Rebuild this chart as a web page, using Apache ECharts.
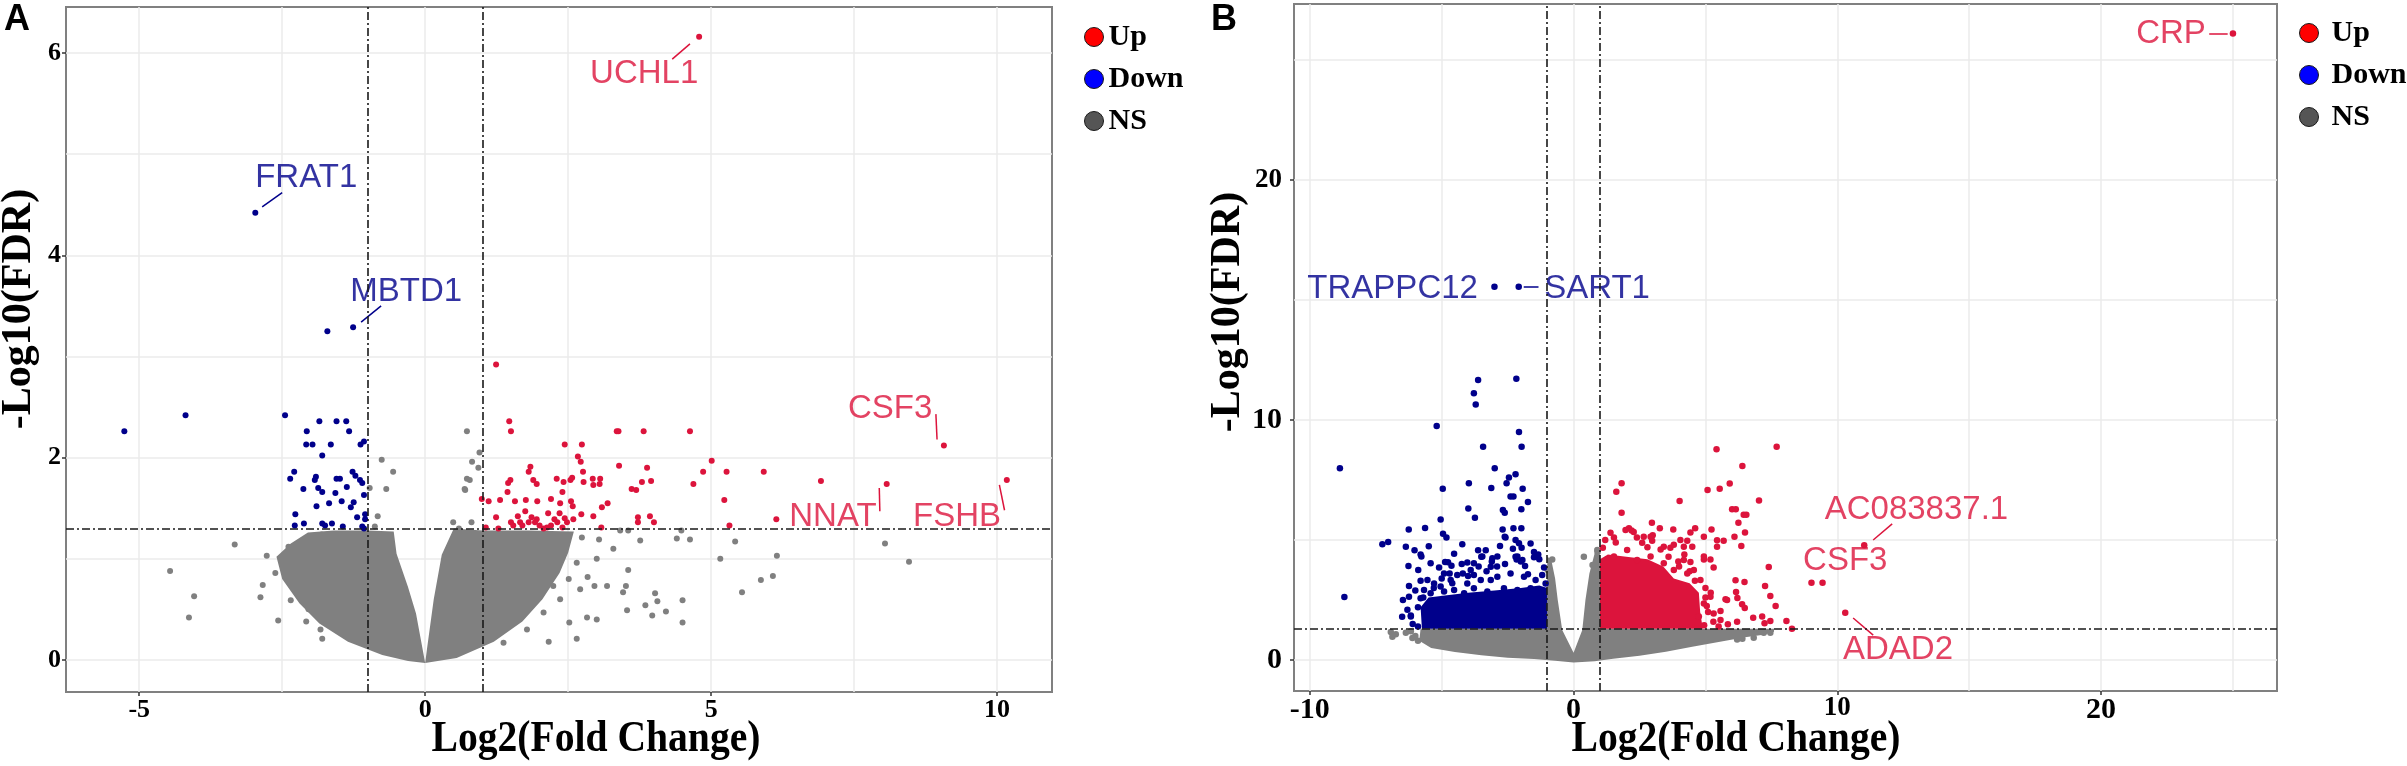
<!DOCTYPE html>
<html>
<head>
<meta charset="utf-8">
<script src="https://cdn.jsdelivr.net/npm/echarts@6/dist/echarts.min.js"></script>
<style>
html, body { margin: 0; padding: 0; background: #fff; }
#chart { width: 2407px; height: 766px; }
</style>
</head>
<body>
<div id="chart"></div>
<script>
var RED = '#DC143C', BLUE = '#00008B', GREY = '#808080';
var SERIF = 'Liberation Serif', SANS = 'Liberation Sans';

// ---- panel A : [log2FC, -log10FDR] ----
var upA = [[4.79,6.16],[1.24,2.92],[9.07,2.12],[8.07,1.74],[10.17,1.78],[6.92,1.77],
  [1.47,2.36],[1.50,2.26],[3.38,2.26],[3.35,2.26],[3.82,2.26],[4.63,2.26],[2.44,2.13],[2.74,2.13],
  [2.67,2.01],[2.72,1.96],[3.39,1.92],[3.88,1.90],[5.01,1.97],[4.86,1.86],[5.27,1.86],[5.92,1.86],
  [4.69,1.74],[1.84,1.91],[1.81,1.86],[1.49,1.78],[1.45,1.75],[1.89,1.78],[1.95,1.74],[2.30,1.79],
  [2.42,1.76],[2.54,1.78],[2.57,1.80],[2.76,1.86],[2.77,1.76],[2.93,1.79],[3.06,1.79],[2.94,1.73],
  [3.05,1.74],[3.61,1.69],[3.69,1.68],[3.79,1.76],[3.95,1.77],[5.23,1.58],[0.99,1.59],[1.11,1.57],
  [1.31,1.58],[1.57,1.57],[1.76,1.58],[1.96,1.57],[2.20,1.59],[2.36,1.55],[2.55,1.57],[2.58,1.52],
  [1.44,1.66],[2.40,1.66],[3.19,1.55],[3.09,1.51],[2.94,1.42],[2.73,1.44],[1.24,1.41],[1.50,1.36],
  [1.66,1.36],[1.86,1.41],[1.95,1.39],[1.92,1.36],[2.07,1.30],[2.26,1.39],[2.31,1.36],[2.44,1.40],
  [2.48,1.36],[2.59,1.39],[1.06,1.31],[1.28,1.30],[1.54,1.33],[1.81,1.36],[2.13,1.31],[3.08,1.31],
  [3.72,1.41],[3.72,1.36],[3.93,1.42],[4.00,1.36],[5.32,1.33],[6.14,1.39],[1.70,1.33],[2.00,1.33],
  [2.20,1.33],[2.40,1.31],[1.62,1.42],[2.15,1.45],[2.35,1.45],[1.75,1.47]];
var downA = [[-2.97,4.42],[-1.71,3.25],[-1.26,3.29],
  [-5.26,2.26],[-4.19,2.42],[-2.45,2.42],[-1.85,2.36],[-1.55,2.36],[-1.38,2.36],[-2.07,2.26],[-1.33,2.26],
  [-1.07,2.16],[-1.13,2.13],[-2.08,2.13],[-1.97,2.13],[-1.65,2.13],[-1.80,2.02],[-2.29,1.86],[-2.36,1.79],
  [-1.91,1.81],[-1.93,1.78],[-1.27,1.86],[-1.22,1.82],[-1.55,1.79],[-1.49,1.79],[-1.14,1.78],[-1.10,1.75],
  [-1.37,1.71],[-2.13,1.69],[-1.87,1.70],[-1.80,1.66],[-1.57,1.65],[-1.90,1.52],[-1.68,1.55],[-1.46,1.57],
  [-1.25,1.56],[-1.30,1.51],[-1.07,1.63],[-1.05,1.44],[-1.19,1.41],[-2.27,1.44],[-2.28,1.33],[-2.12,1.35],
  [-1.80,1.35],[-1.63,1.35],[-1.44,1.32],[-1.75,1.33],[-1.10,1.32],[-1.05,1.39],[-1.07,1.30]];
var nsA = [[-3.33,1.14],[-4.46,0.88],[-4.04,0.63],[-4.13,0.42],[-2.57,0.39],[-2.88,0.62],[-2.77,1.03],
  [0.73,2.26],[-0.76,1.98],[-0.56,1.86],[-0.97,1.70],[-0.68,1.69],[0.95,2.05],[0.82,1.96],[0.93,1.90],
  [0.73,1.79],[0.70,1.68],[-1.80,0.21],[-2.62,0.86],[-2.84,0.74],[-1.81,1.24],[-2.39,1.12],[-2.48,0.97],
  [-2.35,0.59],[-2.04,0.50],[-2.08,0.38],[-1.83,0.30],[-0.83,1.42],[-0.88,1.32],[0.69,1.69],[0.78,1.78],
  [0.81,1.36],[0.49,1.36],[0.59,1.30],
  [4.40,1.20],[4.63,1.19],[4.48,1.28],[5.42,1.17],[5.16,1.00],[6.15,1.03],[5.87,0.79],[6.08,0.83],
  [5.54,0.67],[3.55,0.89],[3.51,0.73],[3.46,0.67],[4.02,0.66],[4.06,0.58],[3.85,0.54],[3.97,0.44],
  [4.21,0.48],[4.50,0.59],[4.50,0.37],[3.53,0.49],[2.65,0.21],[3.00,0.40],[2.83,0.42],[2.52,0.37],
  [2.96,0.73],[3.18,0.73],[2.71,0.70],[2.84,0.82],[3.00,1.00],[3.29,1.10],[3.76,1.18],[3.41,1.28],
  [3.55,1.28],[3.04,1.19],[2.74,1.21],[2.16,0.18],[2.24,0.73],[8.04,1.15],[8.46,0.97],
  [2.65,0.96],[2.51,0.80],[2.36,0.60],[2.07,0.47],[1.78,0.30],[1.37,0.17]];
// outlines of the solid grey cloud (two lobes of the V)
var nsLeftA = [[0,-0.03],[-0.16,0.46],[-0.30,0.72],[-0.50,1.05],[-0.55,1.27],[-1.0,1.28],[-1.6,1.28],
  [-2.05,1.26],[-2.35,1.15],[-2.6,1.02],[-2.5,0.8],[-2.2,0.56],[-1.85,0.36],[-1.35,0.18],[-0.75,0.05],[-0.3,-0.01]];
var nsRightA = [[0,-0.03],[0.55,0.02],[1.2,0.18],[1.7,0.38],[2.05,0.6],[2.35,0.86],[2.5,1.06],[2.6,1.27],
  [1.8,1.28],[1.0,1.28],[0.5,1.3],[0.29,1.04],[0.15,0.6],[0.03,0.1]];
var genesA = ['UCHL1','FRAT1','MBTD1','CSF3','NNAT','FSHB'];
var geneDirA = ['Up','Down','Down','Up','Up','Up'];
var genePosA = [[3.83,5.79],[-2.08,4.77],[-0.33,3.64],[8.13,2.48],[7.13,1.41],[9.3,1.41]];
var leaderA = [[[4.63,6.09],[4.32,5.94]],[[-2.85,4.48],[-2.5,4.62]],[[-1.12,3.34],[-0.77,3.5]],
  [[8.93,2.43],[8.95,2.18]],[[7.94,1.70],[7.95,1.47]],[[10.04,1.73],[10.13,1.48]]];

// ---- panel B ----
var upB = [[25.0,26.1],[11.02,4.78],[9.02,3.22],[9.44,3.22],[10.30,1.97],
  [5.42,8.78],[7.70,8.89],[6.40,8.08],[1.82,7.36],[1.62,7.01],[1.82,6.14],[4.02,6.63],[5.08,7.08],
  [5.54,7.14],[5.92,7.35],[7.03,6.65],[6.01,6.28],[6.15,6.28],[6.45,6.05],[6.55,6.05],[2.97,5.72],
  [3.27,5.49],[4.61,5.49],[4.43,5.31],[5.23,5.44],[6.25,5.72],[6.50,5.31],[6.10,5.14],[6.36,4.75],
  [4.94,5.14],[5.44,4.99],[5.69,4.97],[5.19,4.19],[5.31,3.85],[4.94,4.19],[4.43,4.08],[7.40,3.88],
  [6.14,3.32],[6.48,3.25],[7.26,3.08],[7.46,2.67],[7.66,2.25],[6.16,2.83],[6.21,2.58],[6.39,2.32],
  [6.49,2.17],[6.81,1.76],[7.15,1.81],[7.24,1.53],[7.46,1.63],[8.07,1.63],[8.28,1.30],[5.85,1.49],
  [5.76,2.53],[5.57,2.04],[1.11,4.68],[1.53,5.10],[2.10,5.49],[2.28,5.33],[2.60,4.89],[2.98,4.97],
  [3.67,4.68],[3.97,4.10],[4.31,4.97],[1.2,5.0],[1.6,4.9],[2.4,5.1],[2.8,4.7],[3.3,4.6],[3.6,4.3],
  [4.0,3.9],[4.4,3.7],[4.6,3.3],[5.0,2.6],[5.1,2.0],[5.3,1.6],[5.0,3.0],[4.2,4.4],[3.0,5.2],[2.2,5.4],
  [1.4,5.3],[5.5,1.4],[5.2,2.8],[3.8,4.8],
  [3.78,5.44],[1.97,5.42],[2.03,4.58],[2.66,5.14],[2.92,5.14],[3.42,4.72],[4.05,5.0],[4.18,4.72],
  [4.50,4.72],[4.94,4.31],[5.44,4.72],[4.18,4.17],[4.56,3.75],[4.81,3.33],[5.19,2.64],[4.94,2.36],
  [5.31,1.94],[4.75,1.81],[5.82,2.50],[5.57,1.67],[6.20,1.60],[1.53,4.31],[2.41,4.17],[2.92,4.31],
  [3.42,4.03],[3.80,3.75],[4.31,3.61],[4.18,3.06],[4.95,1.45],[5.05,2.25]];
var downB = [[-3.0,15.55],[-2.08,15.55],
  [-8.86,7.99],[-8.69,2.63],[-7.25,4.82],[-7.03,4.92],[-6.25,5.44],[-6.36,4.72],[-6.03,4.57],[-5.63,5.50],
  [-5.80,4.40],[-5.49,4.74],[-6.26,3.92],[-6.24,3.08],[-6.47,2.50],[-6.17,1.86],[-5.19,9.75],[-4.96,7.14],
  [-5.04,5.85],[-4.95,5.26],[-4.82,5.10],[-3.78,11.11],[-3.71,10.65],[-3.62,11.67],[-2.17,11.72],
  [-2.07,9.50],[-1.97,8.89],[-3.43,8.89],[-2.99,7.99],[-3.12,7.17],[-3.97,7.36],[-2.54,7.36],[-2.45,7.60],
  [-2.20,7.74],[-1.93,7.14],[-2.39,6.81],[-2.28,6.81],[-1.73,6.58],[-1.98,6.28],[-3.99,6.31],[-3.74,5.93],
  [-2.68,6.25],[-2.61,6.14],[-2.69,5.44],[-2.28,5.49],[-1.98,5.49],[-2.58,5.10],[-2.30,4.64],[-1.63,4.85],
  [-1.97,4.68],[-2.79,4.75],[-3.62,4.57],[-3.33,4.57],[-4.22,4.82],[-4.53,4.43],[-4.87,4.08],[-5.10,3.85],
  [-1.34,4.40],[-1.12,3.85],[-2.16,4.19],[-1.84,3.92],[-1.73,3.57],[-5.0,3.4],[-4.6,3.2],[-4.2,3.6],
  [-3.6,3.9],[-3.1,4.1],[-2.6,4.0],[-2.2,4.3],[-1.5,4.5],[-5.9,2.2],[-6.0,2.9],[-5.8,3.3],[-6.5,1.8],
  [-6.3,2.1],[-5.3,3.0],[-4.0,3.5],[-3.3,3.7],[-2.9,3.9],[-1.3,4.2],[-4.7,3.6],[-3.5,4.3],[-2.0,4.1],
  [-5.7,2.6],[-6.1,1.5],[-5.9,1.4],
  [-5.77,4.31],[-5.42,4.03],[-4.76,4.07],[-4.63,3.93],[-4.24,4.00],[-4.03,4.06],[-3.90,3.75],[-3.78,4.03],
  [-3.46,4.31],[-3.08,4.24],[-2.89,4.31],[-2.61,5.14],[-2.20,5.00],[-2.07,4.86],[-2.13,4.31],[-1.94,4.17],
  [-1.50,4.28],[-1.19,3.54],[-3.14,3.89],[-5.54,3.33],[-5.29,3.19],[-5.04,3.06],[-4.66,3.33],[-4.41,3.54],
  [-4.03,3.19],[-3.52,3.33],[-2.89,3.47],[-2.39,3.61],[-1.88,3.47],[-1.44,3.33],[-6.24,2.64],[-5.80,2.57],
  [-6.17,1.81],[-5.67,2.92],[-5.42,2.78],[-4.91,2.85],[-4.53,2.92],[-4.15,2.78],[-3.78,2.99],[-3.27,2.85],
  [-2.64,2.99],[-2.13,2.92],[-1.63,2.99],[-1.25,2.78],[-1.06,3.19],[-3.14,3.33],[-3.78,3.54],[-4.91,3.61],
  [-5.89,3.75]];
var nsB = [[-6.87,0.97],[-6.74,1.07],[-6.36,1.14],[-6.17,1.2],[-0.81,4.19],[-0.83,3.01],[-0.98,3.75],
  [0.91,4.5],[0.72,3.96],[7.21,1.14],[7.46,1.14],[6.83,0.93],[6.40,0.89],[6.2,0.86],[-6.0,1.0],[-5.9,0.8],
  [-6.93,1.17],[-6.11,0.92],[0.39,4.3],[0.9,4.58]];
// outlines of the solid clouds
var nsPolyB = [[-5.8,1.3],[-5.85,0.8],[-5.4,0.5],[-4.5,0.33],[-3.5,0.2],[-2.5,0.1],[-1.5,0.04],[-0.7,-0.03],
  [0,-0.1],[0.8,-0.05],[1.5,0.05],[2.5,0.18],[3.5,0.35],[4.5,0.55],[5.5,0.75],[6.5,0.95],[7.2,1.05],
  [7.6,1.18],[7.6,1.3],[1.0,1.3],[1.0,4.4],[0.8,4.45],[0.6,3.6],[0.45,2.5],[0.33,1.25],[0.0,0.3],
  [-0.43,1.25],[-0.6,2.5],[-0.7,3.4],[-0.85,4.2],[-1.0,4.3],[-1.0,1.3]];
var downPolyB = [[-5.75,1.3],[-5.8,2.2],[-5.5,2.6],[-4.8,2.7],[-4.0,2.8],[-3.0,2.9],[-2.0,3.0],[-1.3,3.1],
  [-1.0,3.0],[-1.0,1.3]];
var upPolyB = [[1.0,1.3],[1.0,4.2],[1.3,4.4],[2.0,4.3],[2.8,4.2],[3.4,3.9],[3.8,3.4],[4.4,3.2],[4.75,2.8],
  [4.8,2.0],[4.9,1.3]];
var genesB = ['CRP','TRAPPC12','SART1','AC083837.1','CSF3','ADAD2'];
var geneDirB = ['Up','Down','Down','Up','Up','Up'];
var genePosB = [[22.65,26.1],[-6.86,15.46],[0.89,15.46],[13.0,6.25],[10.3,4.12],[12.3,0.42]];
var leaderB = [[[24.1,26.1],[24.8,26.1]],[[-1.89,15.55],[-1.33,15.55]],[[11.36,5.0],[12.08,5.67]],
  [[10.6,1.75],[11.36,1.04]]];
var leaderDirB = ['Up','Down','Up','Up'];

// axes / thresholds
var xTicksA = [-5, 0, 5, 10], yTicksA = [0, 2, 4, 6];
var gridXA = [-5, -2.5, 0, 2.5, 5, 7.5, 10], gridYA = [0, 1, 2, 3, 4, 5, 6];
var xTicksB = [-10, 0, 10, 20], yTicksB = [0, 10, 20];
var gridXB = [-10, -5, 0, 5, 10, 15, 20, 25], gridYB = [0, 5, 10, 15, 20, 25];
var fcCut = [-1, 1], fdrCut = 1.3;

var dirColor = {Up: RED, Down: BLUE, NS: GREY};

function gridLines(gi, xs, ys) {
    return {
        type: 'scatter', xAxisIndex: gi, yAxisIndex: gi, data: [], silent: true, z: 0,
        markLine: {
            silent: true, symbol: 'none', label: {show: false}, animation: false, z: 0,
            lineStyle: {color: '#ebebeb', width: 1.5, type: 'solid'},
            data: xs.map(function (v) { return {xAxis: v}; }).concat(ys.map(function (v) { return {yAxis: v}; }))
        }
    };
}
function cutLines(gi) {
    return {
        type: 'scatter', xAxisIndex: gi, yAxisIndex: gi, data: [], silent: true, z: 10,
        markLine: {
            silent: true, symbol: 'none', label: {show: false}, animation: false, z: 10,
            lineStyle: {color: '#1a1a1a', width: 1.6, type: [8, 3, 2, 3]},
            data: fcCut.map(function (v) { return {xAxis: v}; }).concat([{yAxis: fdrCut}])
        }
    };
}
function points(name, data, gi, size) {
    return {
        name: name, type: 'scatter', xAxisIndex: gi, yAxisIndex: gi, data: data,
        symbolSize: size, silent: true, z: 3, itemStyle: {color: dirColor[name], opacity: 1}
    };
}
function cloud(name, verts, gi) {
    return {
        name: name, type: 'custom', xAxisIndex: gi, yAxisIndex: gi, data: verts,
        encode: {x: 0, y: 1}, silent: true, z: 2,
        renderItem: function (params, api) {
            if (params.dataIndex !== 0) return;
            var p = verts.map(function (v) { return api.coord(v); });
            return {type: 'polygon', shape: {points: p}, style: {fill: dirColor[name]}};
        }
    };
}
function leaders(segs, dirs, gi) {
    return {
        type: 'lines', coordinateSystem: 'cartesian2d', xAxisIndex: gi, yAxisIndex: gi,
        silent: true, z: 4, lineStyle: {width: 1.5, opacity: 1},
        data: segs.map(function (c, i) { return {coords: c, lineStyle: {color: dirColor[dirs[i]]}}; })
    };
}
function geneLabels(names, pos, dirs, gi) {
    return {
        type: 'scatter', xAxisIndex: gi, yAxisIndex: gi, symbolSize: 1, silent: true, z: 5,
        itemStyle: {color: 'rgba(0,0,0,0)'},
        label: {show: true, position: 'inside', formatter: '{b}', fontFamily: SANS, fontSize: 33},
        data: names.map(function (n, i) {
            return {name: n, value: pos[i], label: {color: dirColor[dirs[i]]}};
        })
    };
}
function tickRich(small) {
    return function (v) { return (small.indexOf(v) >= 0 ? '{s|' : '{b|') + v + '}'; };
}
var rich = {
    b: {fontFamily: SERIF, fontWeight: 'bold', fontSize: 30, color: '#000'},
    s: {fontFamily: SERIF, fontWeight: 'bold', fontSize: 27, color: '#000'}
};
var tickStyle = {show: true, length: 4, lineStyle: {color: '#333', width: 1.5}};
function axis(gi, min, max, ticks, label) {
    return {
        gridIndex: gi, type: 'value', min: min, max: max,
        axisLine: {show: false, onZero: false}, splitLine: {show: false},
        axisTick: Object.assign({customValues: ticks}, tickStyle),
        axisLabel: Object.assign({customValues: ticks, color: '#000'}, label)
    };
}
var labA = {fontFamily: SERIF, fontWeight: 'bold', fontSize: 26};

var legendData = [
    {name: 'Up', itemStyle: {color: '#ff0000', borderColor: '#1a1a1a', borderWidth: 1}},
    {name: 'Down', itemStyle: {color: '#0000ff', borderColor: '#1a1a1a', borderWidth: 1}},
    {name: 'NS', itemStyle: {color: '#555555', borderColor: '#1a1a1a', borderWidth: 1}}
];
var legendText = {fontFamily: SERIF, fontWeight: 'bold', fontSize: 30, color: '#000', lineHeight: 30};

var option = {
    animation: false,
    backgroundColor: '#fff',
    grid: [
        {left: 66, top: 7, width: 986, height: 685, show: true, borderColor: '#808080', borderWidth: 2, backgroundColor: '#fff'},
        {left: 1294, top: 4, width: 983, height: 687, show: true, borderColor: '#808080', borderWidth: 2, backgroundColor: '#fff'}
    ],
    legend: [
        {left: 1079, top: 17, orient: 'vertical', icon: 'circle', itemWidth: 19, itemHeight: 19, itemGap: 12,
         selectedMode: false, textStyle: legendText, data: legendData},
        {left: 2294, top: 13, orient: 'vertical', icon: 'circle', itemWidth: 19, itemHeight: 19, itemGap: 12,
         selectedMode: false, textStyle: Object.assign({padding: [0, 0, 0, 8]}, legendText), data: legendData}
    ],
    xAxis: [
        axis(0, -6.28, 10.96, xTicksA, Object.assign({margin: 5}, labA)),
        axis(1, -10.6, 26.67, xTicksB, {margin: 4, formatter: tickRich([10]), rich: rich})
    ],
    yAxis: [
        axis(0, -0.317, 6.455, yTicksA, Object.assign({margin: 5}, labA)),
        axis(1, -1.29, 27.33, yTicksB, {margin: 12, formatter: tickRich([20]), rich: rich})
    ],
    graphic: [
        {type: 'text', left: 4, top: 2, style: {text: 'A', fontFamily: SANS, fontWeight: 'bold', fontSize: 36, fill: '#000'}},
        {type: 'text', left: 1211, top: 2, style: {text: 'B', fontFamily: SANS, fontWeight: 'bold', fontSize: 36, fill: '#000'}},
        {type: 'text', x: 19, y: 309, rotation: Math.PI / 2,
         style: {text: '-Log10(FDR)', fontFamily: SERIF, fontWeight: 'bold', fontSize: 42, fill: '#000', align: 'center', verticalAlign: 'middle'}},
        {type: 'text', x: 1228, y: 312, rotation: Math.PI / 2,
         style: {text: '-Log10(FDR)', fontFamily: SERIF, fontWeight: 'bold', fontSize: 42, fill: '#000', align: 'center', verticalAlign: 'middle'}},
        {type: 'text', x: 596, y: 740, scaleX: 0.9,
         style: {text: 'Log2(Fold Change)', fontFamily: SERIF, fontWeight: 'bold', fontSize: 44, fill: '#000', align: 'center', verticalAlign: 'middle'}},
        {type: 'text', x: 1736, y: 740, scaleX: 0.9,
         style: {text: 'Log2(Fold Change)', fontFamily: SERIF, fontWeight: 'bold', fontSize: 44, fill: '#000', align: 'center', verticalAlign: 'middle'}}
    ],
    series: [
        gridLines(0, gridXA, gridYA),
        cloud('NS', nsLeftA, 0),
        cloud('NS', nsRightA, 0),
        points('NS', nsA, 0, 6),
        points('Down', downA, 0, 6),
        points('Up', upA, 0, 6),
        cutLines(0),
        leaders(leaderA, geneDirA, 0),
        geneLabels(genesA, genePosA, geneDirA, 0),

        gridLines(1, gridXB, gridYB),
        cloud('NS', nsPolyB, 1),
        points('NS', nsB, 1, 6.5),
        cloud('Down', downPolyB, 1),
        points('Down', downB, 1, 6.5),
        cloud('Up', upPolyB, 1),
        points('Up', upB, 1, 6.5),
        cutLines(1),
        leaders(leaderB, leaderDirB, 1),
        geneLabels(genesB, genePosB, geneDirB, 1)
    ]
};

var chart = echarts.init(document.getElementById('chart'));
chart.setOption(option);
window.onresize = function () { chart.resize(); };
</script>
</body>
</html>
